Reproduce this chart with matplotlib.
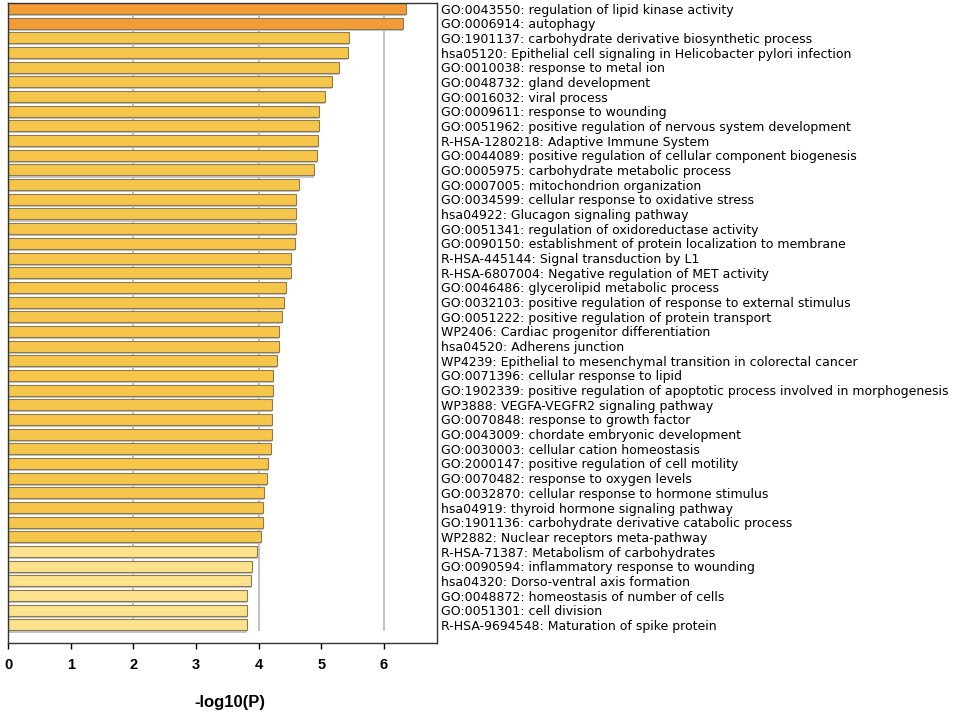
import matplotlib.pyplot as plt
import numpy as np

# enrichment terms (top to bottom) and their -log10(P)
terms = [
    "GO:0043550: regulation of lipid kinase activity",
    "GO:0006914: autophagy",
    "GO:1901137: carbohydrate derivative biosynthetic process",
    "hsa05120: Epithelial cell signaling in Helicobacter pylori infection",
    "GO:0010038: response to metal ion",
    "GO:0048732: gland development",
    "GO:0016032: viral process",
    "GO:0009611: response to wounding",
    "GO:0051962: positive regulation of nervous system development",
    "R-HSA-1280218: Adaptive Immune System",
    "GO:0044089: positive regulation of cellular component biogenesis",
    "GO:0005975: carbohydrate metabolic process",
    "GO:0007005: mitochondrion organization",
    "GO:0034599: cellular response to oxidative stress",
    "hsa04922: Glucagon signaling pathway",
    "GO:0051341: regulation of oxidoreductase activity",
    "GO:0090150: establishment of protein localization to membrane",
    "R-HSA-445144: Signal transduction by L1",
    "R-HSA-6807004: Negative regulation of MET activity",
    "GO:0046486: glycerolipid metabolic process",
    "GO:0032103: positive regulation of response to external stimulus",
    "GO:0051222: positive regulation of protein transport",
    "WP2406: Cardiac progenitor differentiation",
    "hsa04520: Adherens junction",
    "WP4239: Epithelial to mesenchymal transition in colorectal cancer",
    "GO:0071396: cellular response to lipid",
    "GO:1902339: positive regulation of apoptotic process involved in morphogenesis",
    "WP3888: VEGFA-VEGFR2 signaling pathway",
    "GO:0070848: response to growth factor",
    "GO:0043009: chordate embryonic development",
    "GO:0030003: cellular cation homeostasis",
    "GO:2000147: positive regulation of cell motility",
    "GO:0070482: response to oxygen levels",
    "GO:0032870: cellular response to hormone stimulus",
    "hsa04919: thyroid hormone signaling pathway",
    "GO:1901136: carbohydrate derivative catabolic process",
    "WP2882: Nuclear receptors meta-pathway",
    "R-HSA-71387: Metabolism of carbohydrates",
    "GO:0090594: inflammatory response to wounding",
    "hsa04320: Dorso-ventral axis formation",
    "GO:0048872: homeostasis of number of cells",
    "GO:0051301: cell division",
    "R-HSA-9694548: Maturation of spike protein",
]
logp = [6.35, 6.31, 5.45, 5.43, 5.28, 5.18, 5.06, 4.97, 4.96, 4.95,
        4.93, 4.88, 4.64, 4.60, 4.59, 4.59, 4.58, 4.51, 4.51, 4.43,
        4.40, 4.38, 4.33, 4.32, 4.30, 4.23, 4.23, 4.22, 4.22, 4.21,
        4.19, 4.15, 4.14, 4.08, 4.07, 4.07, 4.04, 3.97, 3.90, 3.88,
        3.82, 3.81, 3.81]
xticks = [0, 1, 2, 3, 4, 5, 6]
grid_x = [2, 4, 6]

logp = np.array(logp)
colors = np.where(logp >= 6, '#F39C36', np.where(logp >= 4, '#F6C64B', '#FCE28D'))
y = np.arange(len(terms))

fig = plt.figure(figsize=(9.68, 7.15), dpi=100)
ax = fig.add_axes([0.0086, 0.1007, 0.4428, 0.8951])

ax.vlines(grid_x, -0.4, len(terms) - 0.6, color='#c2c2c2', lw=1.5, zorder=0)
# grey shadow under each bar
ax.barh(y + 0.14, logp, height=0.75, color='#c4c4c4', zorder=1)
ax.barh(y, logp, height=0.75, color=colors, edgecolor='#8c7c55', lw=0.8, zorder=2)

ax.set_xlim(0, 6.85)
ax.set_ylim(len(terms) - 1 + 1.23, -0.375)
ax.set_xticks(xticks)
ax.set_xticklabels([str(t) for t in xticks], fontweight='bold', family='Liberation Sans', fontsize=10.5)
ax.tick_params(axis='x', length=4, pad=7, width=1)

ax.yaxis.tick_right()
ax.set_yticks(y)
ax.set_yticklabels(terms, fontsize=9)
ax.tick_params(axis='y', length=0, pad=3)

for s in ax.spines.values():
    s.set_color('#333333')
    s.set_linewidth(1)

fig.text(230 / 968, 1 - 703 / 715, '-log10(P)', ha='center', va='center',
         fontweight='bold', family='Liberation Sans', fontsize=12)

plt.savefig('out.png', dpi=100)
